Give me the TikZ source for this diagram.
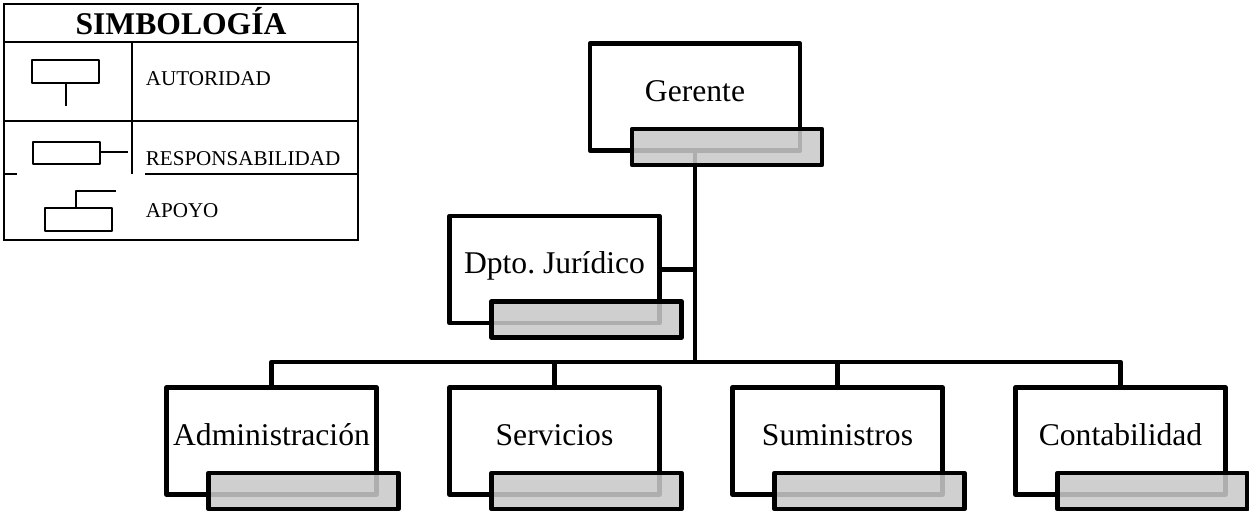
\documentclass[tikz,border=0pt]{standalone}
\usepackage{fontspec}
\setmainfont{Liberation Serif}
\usetikzlibrary{calc}
\definecolor{tabgray}{RGB}{201,201,201}
\frenchspacing
\begin{document}
\begin{tikzpicture}[x=0.02cm,y=-0.02cm,
  unit/.style={draw=black, fill=white, line width=2.6pt, line join=round, rectangle,
    minimum width=4.2cm, minimum height=2.14cm, inner sep=0pt, outer sep=0pt,
    font=\fontsize{18}{21}\selectfont, text height=0.29cm, text depth=0.11cm},
  tabbar/.style={draw=black, fill=tabgray, fill opacity=0.87, line width=2.6pt, line join=round,
    rectangle, minimum width=3.8cm, minimum height=0.72cm, inner sep=0pt, outer sep=0pt},
  link/.style={line width=2.6pt, line join=round},
  rule/.style={line width=1.7pt},
  sym/.style={line width=1.6pt, line join=round},
  legtext/.style={anchor=base west, inner sep=0pt, font=\fontsize{12}{14}\selectfont}]

\useasboundingbox (0,0) rectangle (1249,513);

% ---------- legend table ----------
\draw[rule] (4,4) rectangle (358,240);
\draw[rule] (4,42) -- (358,42);
\draw[rule] (4,121) -- (358,121);
\draw[rule] (4,174) -- (17,174);
\draw[rule] (145,174) -- (358,174);
\draw[rule] (132,42) -- (132,174);
\node[anchor=base, inner sep=0pt, font=\fontsize{18}{21}\selectfont\bfseries] (title) at (181,35) {SIMBOLOGÍA};

% authority symbol
\draw[sym] (32,60) rectangle (99,83);
\draw[sym] (66,83) -- (66,106);
\node[legtext] (aut) at (145.5,86) {AUTORIDAD};
% responsibility symbol
\draw[sym] (33,142) rectangle (100,164);
\draw[sym] (100,152) -- (128,152);
\node[legtext] (resp) at (145.5,165.5) {RESPONSABILIDAD};
% support symbol
\draw[sym] (45,208) rectangle (112,231);
\draw[sym] (76,208) -- (76,191) -- (116,191);
\node[legtext] (apo) at (145.5,218) {APOYO};

% ---------- org chart ----------
\node[unit] (ger) at (695,97) {Gerente};
\node[unit] (jur) at (554.5,269.5) {Dpto. Jurídico};
\node[unit] (adm) at (271.5,441) {Administración};
\node[unit] (ser) at (554.5,441) {Servicios};
\node[unit] (sum) at (837.5,441) {Suministros};
\node[unit] (con) at (1120.5,441) {Contabilidad};

\coordinate (bus) at (695,362);
\draw[link] (ger.south) -- (bus);
\draw[link] (jur.east) -- (jur.east -| bus);
\draw[link] (adm.north) |- (bus) -| (con.north);
\draw[link] (ser.north) -- (ser.north |- bus);
\draw[link] (sum.north) -- (sum.north |- bus);

% translucent grey bars over each box
\foreach \n in {ger,jur,adm,ser,sum,con}
  \node[tabbar] (\n-bar) at ($(\n.center)+(32,50)$) {};
\end{tikzpicture}
\end{document}
